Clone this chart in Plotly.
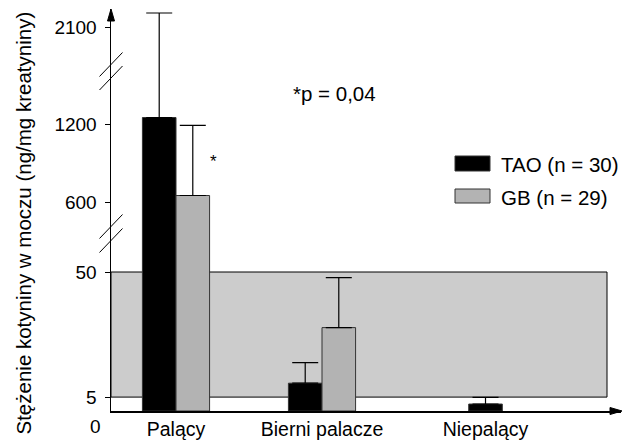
import numpy as np
import plotly.graph_objects as go

# ---------------- data ----------------
categories = ["Palący", "Bierni palacze", "Niepalący"]
series_names = ["TAO (n = 30)", "GB (n = 29)"]
tao_values = [1260, 10, 2.5]
tao_sd = [970, 7.4, 2.4]
gb_values = [650, 30, None]
gb_sd = [540, 18, None]
y_tick_values = [5, 50, 600, 1200, 2100]
y_tick_labels = ["5", "50", "600", "1200", "2100"]
reference_band = [5, 50]
p_text = "*p\u00a0=\u00a00,04"
y_title = "Stężenie kotyniny w moczu (ng/mg kreatyniny)"

# ---------------- broken-axis scale ----------------
BREAK_VALUES = [0, 50, 600, 1200, 2100, 2400]
BREAK_DISPLAY = [0, 139, 209, 287, 384, 416.3]


def scale(v):
    return float(np.interp(v, BREAK_VALUES, BREAK_DISPLAY))


# ---------------- layout constants ----------------
W, H = 623, 444
ML, MR, MT, MB = 111, 2, 9, 33
PW, PH = W - ML - MR, H - MT - MB
GROUP_POS = [0.0, 1.0, 2.235]
BAR_W = 0.23
X_RANGE = [-0.4452, 3.048]
FONT = "Liberation Sans, Arial, sans-serif"
COLORS = ["#000000", "#b3b3b3"]
BAND_COLOR = "#cccccc"


def px_x(px):
    return (px - ML) / PW


def px_y(py):
    return (H - MB - py) / PH


fig = go.Figure()

series = [(tao_values, tao_sd), (gb_values, gb_sd)]
offsets = [-BAR_W, 0.0]
for (vals, sds), name, col, off in zip(series, series_names, COLORS, offsets):
    xs, ys, errs = [], [], []
    for g, v, s in zip(GROUP_POS, vals, sds):
        if v is None:
            continue
        xs.append(g)
        ys.append(scale(v))
        errs.append(scale(v + s) - scale(v))
    fig.add_trace(go.Bar(
        x=xs, y=ys, name=name, width=BAR_W, offset=off,
        marker=dict(color=col, line=dict(color="#333333", width=1)),
        error_y=dict(type="data", symmetric=False, array=errs,
                     arrayminus=[0] * len(errs), color="black",
                     thickness=1.2, width=13),
        showlegend=False, cliponaxis=False, hoverinfo="skip",
    ))

# tick positions: centre of the bars present in each category
tick_pos = []
for i, g in enumerate(GROUP_POS):
    centers = []
    for vals, off in zip([tao_values, gb_values], offsets):
        if vals[i] is not None:
            centers.append(g + off + BAR_W / 2)
    tick_pos.append(float(np.mean(centers)))

shapes = []
# reference band
shapes.append(dict(type="rect", xref="paper", yref="y", x0=0, x1=px_x(607),
                   y0=scale(reference_band[0]), y1=scale(reference_band[1]),
                   fillcolor=BAND_COLOR, line=dict(color="black", width=1),
                   layer="below"))
# axis arrowheads
shapes.append(dict(type="path", xref="paper", yref="paper", xsizemode="pixel",
                   ysizemode="pixel", xanchor=0, yanchor=1,
                   path="M -3.5,-12 L 3.5,-12 L 0,0 Z",
                   fillcolor="black", line=dict(color="black", width=1)))
shapes.append(dict(type="path", xref="paper", yref="paper", xsizemode="pixel",
                   ysizemode="pixel", xanchor=1, yanchor=0,
                   path="M -11,-3.5 L -11,3.5 L 1,0 Z",
                   fillcolor="black", line=dict(color="black", width=1)))
# axis break marks
for py in [226.5, 240.5, 64.5, 78]:
    shapes.append(dict(type="line", xref="paper", yref="paper",
                       xsizemode="pixel", ysizemode="pixel",
                       xanchor=0, yanchor=px_y(py),
                       x0=-11.5, x1=11.5, y0=-12, y1=12,
                       line=dict(color="black", width=1)))
# legend boxes
shapes.append(dict(type="rect", xref="paper", yref="paper",
                   x0=px_x(455), x1=px_x(490), y0=px_y(171), y1=px_y(156),
                   fillcolor=COLORS[0], line=dict(color="#333333", width=1)))
shapes.append(dict(type="rect", xref="paper", yref="paper",
                   x0=px_x(455), x1=px_x(490), y0=px_y(203), y1=px_y(189),
                   fillcolor=COLORS[1], line=dict(color="#333333", width=1)))

annotations = [
    dict(text=series_names[0], xref="paper", yref="paper", x=px_x(499),
         y=px_y(164), xanchor="left", yanchor="middle", showarrow=False,
         font=dict(size=20.5, color="black", family=FONT)),
    dict(text=series_names[1], xref="paper", yref="paper", x=px_x(499),
         y=px_y(197), xanchor="left", yanchor="middle", showarrow=False,
         font=dict(size=20.5, color="black", family=FONT)),
    dict(text=p_text, xref="paper", yref="paper", x=px_x(334),
         y=px_y(94), xanchor="center", yanchor="middle", showarrow=False,
         font=dict(size=20.5, color="black", family=FONT)),
    dict(text="*", xref="paper", yref="paper", x=px_x(213),
         y=px_y(161), xanchor="center", yanchor="middle", showarrow=False,
         font=dict(size=17, color="black", family=FONT)),
    dict(text="0", xref="paper", yref="paper", x=px_x(95),
         y=px_y(426), xanchor="center", yanchor="middle", showarrow=False,
         font=dict(size=19, color="black", family=FONT)),
    dict(text=y_title, xref="paper", yref="paper", x=px_x(23),
         y=px_y(223.5), xanchor="center", yanchor="middle", showarrow=False,
         textangle=-90, font=dict(size=20.5, color="black", family=FONT)),
]

fig.update_layout(
    width=W, height=H,
    margin=dict(l=ML, r=MR, t=MT, b=MB, pad=0),
    plot_bgcolor="white", paper_bgcolor="white",
    font=dict(family=FONT, color="black"),
    barmode="overlay",
    shapes=shapes, annotations=annotations,
    xaxis=dict(range=X_RANGE, tickvals=tick_pos, ticktext=categories,
               showline=True, linecolor="black", linewidth=1.5,
               ticks="", showgrid=False, zeroline=False, automargin=False,
               tickfont=dict(size=19.5, color="black", family=FONT)),
    yaxis=dict(range=[0, PH], tickvals=[scale(v) for v in y_tick_values],
               ticktext=y_tick_labels, showline=True, linecolor="black",
               linewidth=1.5, ticks="outside", ticklen=5, tickwidth=1,
               tickcolor="black", showgrid=False, zeroline=False,
               ticklabelstandoff=4, automargin=False,
               tickfont=dict(size=19, color="black", family=FONT)),
)

fig.write_html(
    "out.html",
    config={"displayModeBar": False, "staticPlot": True},
    post_script="document.body.style.margin='0px';document.body.style.padding='0px';",
)
